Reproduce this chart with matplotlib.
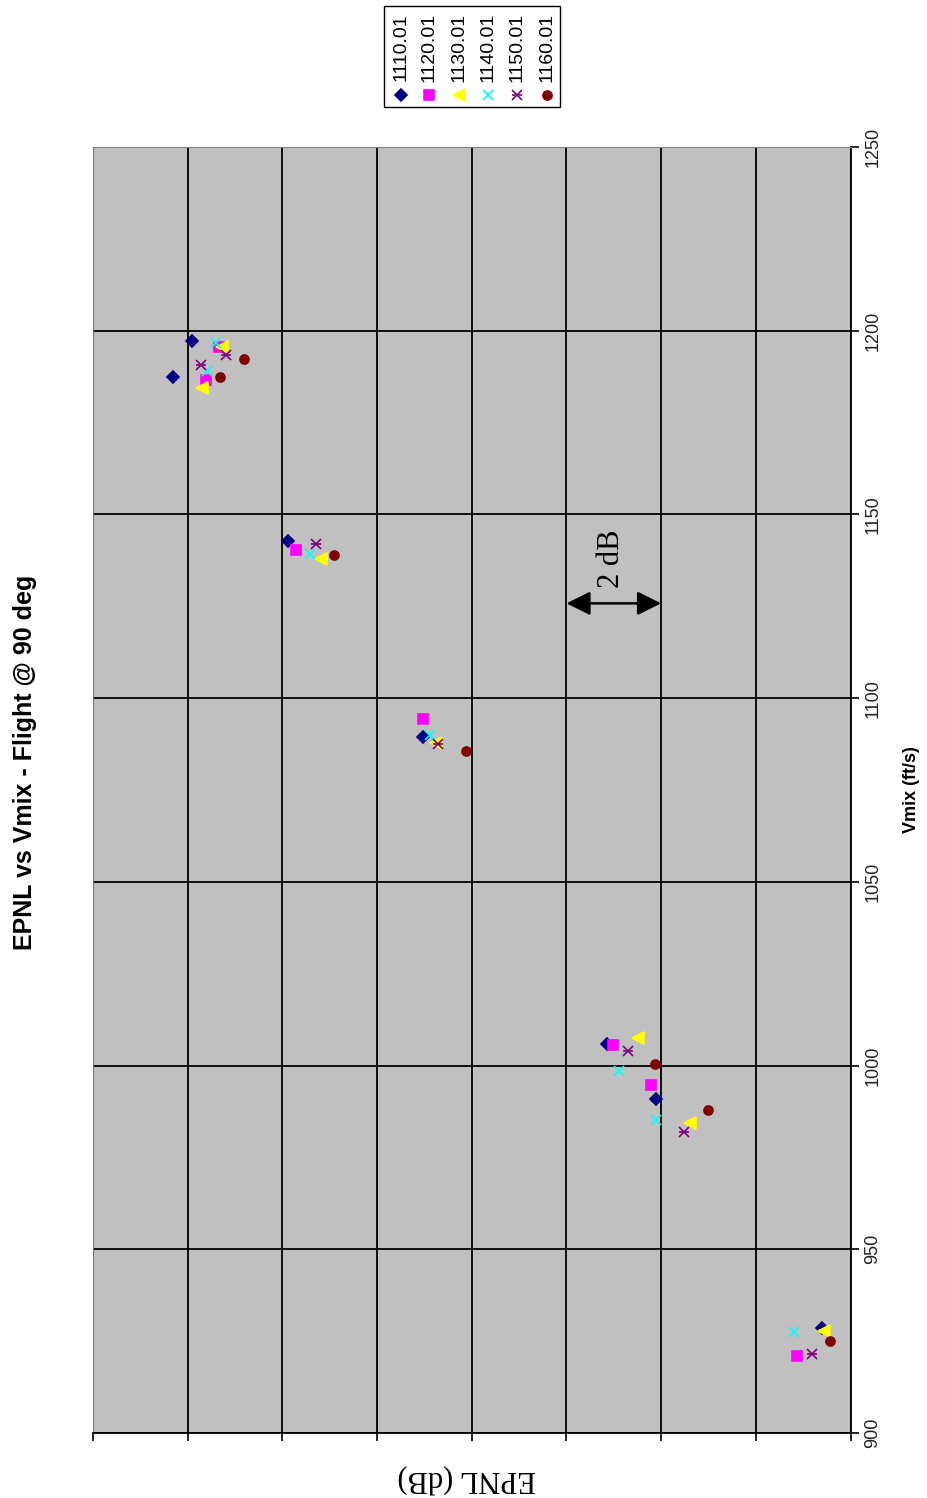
import matplotlib.pyplot as plt
from matplotlib.patches import Rectangle, FancyArrowPatch
from matplotlib.lines import Line2D

plt.rcParams['font.family'] = ['Liberation Sans', 'DejaVu Sans']

# Datenreihen (Vmix in ft/s, EPNL in dB)
labels = ["1110.01", "1120.01", "1130.01", "1140.01", "1150.01", "1160.01"]

vmix_1110 = [1197.3, 1187.5, 1142.7, 1089.5, 1005.9, 990.9, 928.7]
epnl_1110 = [103.91, 104.30, 101.89, 99.02, 95.14, 94.11, 90.61]

vmix_1120 = [1195.6, 1186.7, 1140.2, 1094.3, 1005.5, 994.8, 920.9]
epnl_1120 = [103.34, 103.61, 101.71, 99.02, 95.02, 94.22, 91.12]

vmix_1130 = [1195.6, 1184.4, 1137.9, 1087.7, 1007.5, 984.5, 927.8]
epnl_1130 = [103.27, 103.70, 101.18, 98.75, 94.48, 93.40, 90.57]

vmix_1140 = [1196.7, 1189.1, 1139.3, 1090.0, 998.4, 985.3, 927.4]
epnl_1140 = [103.41, 103.60, 101.41, 98.88, 94.90, 94.11, 91.19]

vmix_1150 = [1193.3, 1190.6, 1142.0, 1087.5, 1004.1, 981.8, 921.6]
epnl_1150 = [103.19, 103.72, 101.30, 98.71, 94.69, 93.51, 90.81]

vmix_1160 = [1192.3, 1187.4, 1138.9, 1085.5, 1000.4, 988.0, 925.1]
epnl_1160 = [102.82, 103.31, 100.91, 98.12, 94.12, 93.01, 90.43]

vmix_ticks = [900, 950, 1000, 1050, 1100, 1150, 1200, 1250]
epnl_ticks = [90, 92, 94, 96, 98, 100, 102, 104, 106]

vmix_all = [vmix_1110, vmix_1120, vmix_1130, vmix_1140, vmix_1150, vmix_1160]
epnl_all = [epnl_1110, epnl_1120, epnl_1130, epnl_1140, epnl_1150, epnl_1160]

# Marker wie in Excel, um 90 Grad gedreht
styles = [
    dict(marker="D", color="#000080", ms=6),
    dict(marker="s", color="#FF00FF", ms=6.5),
    dict(marker="<", color="#FFFF00", ms=8),
    dict(marker="x", color="#00FFFF", ms=6.5),
    dict(marker="x", color="#800080", ms=6.5),
    dict(marker="o", color="#800000", ms=6.5),
]

W, H = 927, 1498
fig = plt.figure(figsize=(W / 100, H / 100), dpi=100)
ax = fig.add_axes([93 / W, 1 - 1433 / H, (850.5 - 93) / W, (1433 - 147) / H])
ax.set_facecolor("#C0C0C0")

for vm, ep, st in zip(vmix_all, epnl_all, styles):
    ax.plot(ep, vm, linestyle="none", marker=st["marker"], color=st["color"],
            markersize=st["ms"], markeredgewidth=1.2, zorder=3)
# Stern = x + horizontaler Strich
ax.plot(epnl_1150, vmix_1150, linestyle="none", marker="_", color="#800080",
        markersize=6.5, markeredgewidth=1.2, zorder=3)

ax.set_xlim(106, 90)
ax.set_ylim(900, 1250)
ax.set_xticks(epnl_ticks)
ax.set_xticklabels([])
ax.set_yticks(vmix_ticks)
ax.yaxis.tick_right()
ax.tick_params(axis="y", direction="out", length=6, width=1.2, labelsize=13,
               labelrotation=90, pad=4, labelcolor="#222222")
for t in ax.get_yticklabels():
    t.set_va("center")
ax.tick_params(axis="x", direction="out", length=6, width=1.2)
ax.grid(True, color="black", linewidth=1.3)
ax.set_axisbelow(True)
for side in ["top", "left"]:
    ax.spines[side].set_color("#808080")
for side in ["bottom", "right"]:
    ax.spines[side].set_color("black")
    ax.spines[side].set_linewidth(1.3)

# 2-dB-Pfeil
arrow = FancyArrowPatch((96, 1125.8), (94, 1125.8),
                        arrowstyle="<|-|>,head_length=1.45,head_width=0.72",
                        mutation_scale=10, color="black", linewidth=1.8,
                        shrinkA=0, shrinkB=0, zorder=4)
ax.add_patch(arrow)
ax.text(95.04, 1130, "2 dB", rotation=90, ha="center", va="bottom",
        fontsize=22, family="Liberation Serif")

# Beschriftungen
fig.text(25 / W, 1 - 762 / H, "EPNL vs Vmix - Flight @ 90 deg", rotation=90,
         ha="center", va="center", fontsize=18, fontweight="bold")
fig.text(912 / W, 1 - 790 / H, "Vmix (ft/s)", rotation=90,
         ha="center", va="center", fontsize=13, fontweight="bold")
fig.text(467 / W, 1 - 1478 / H, "EPNL (dB)", rotation=180,
         ha="center", va="center", fontsize=22, family="Liberation Serif")

# Legende (gedreht, manuell)
fig.patches.append(Rectangle((384 / W, 1 - 107 / H), 176 / W, 101 / H,
                             transform=fig.transFigure, facecolor="white",
                             edgecolor="black", linewidth=1))
cols = [400.7, 429.3, 459.3, 488.3, 516.7, 546.7]
for x, lab, st in zip(cols, labels, styles):
    fig.text(x / W, 1 - 47 / H, lab, rotation=90, ha="center", va="center",
             fontsize=14)
    fig.lines.append(Line2D([x / W], [1 - 95 / H], transform=fig.transFigure,
                            marker=st["marker"], color=st["color"],
                            markersize=st["ms"], markeredgewidth=1.2,
                            linestyle="none"))
fig.lines.append(Line2D([cols[4] / W], [1 - 95 / H], transform=fig.transFigure,
                        marker="_", color="#800080", markersize=6.5,
                        markeredgewidth=1.2, linestyle="none"))

fig.savefig("out.png", dpi=100, facecolor="white")
